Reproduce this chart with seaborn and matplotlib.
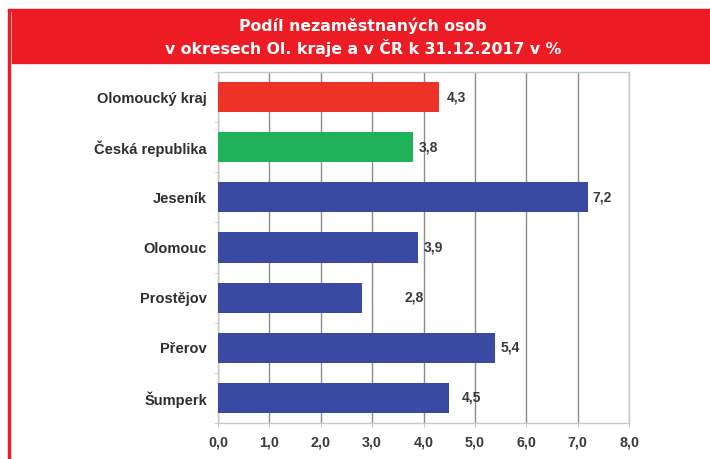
import matplotlib
matplotlib.use("Agg")
import matplotlib.pyplot as plt
import matplotlib.patches as mpatches
import seaborn as sns
import pandas as pd
from matplotlib.ticker import FixedLocator

# ---- data ----
categories = ["Olomoucký kraj", "Česká republika", "Jeseník", "Olomouc",
              "Prostějov", "Přerov", "Šumperk"]
values = [4.3, 3.8, 7.2, 3.9, 2.8, 5.4, 4.5]
value_labels = ["4,3", "3,8", "7,2", "3,9", "2,8", "5,4", "4,5"]
bar_colors = ["#ee3227", "#1fb25a", "#3a4aa2", "#3a4aa2", "#3a4aa2", "#3a4aa2", "#3a4aa2"]
label_offsets_pt = [6, 4, 3, 4, 31, 4, 9]
x_ticks = [0, 1, 2, 3, 4, 5, 6, 7, 8]
x_tick_labels = ["0,0", "1,0", "2,0", "3,0", "4,0", "5,0", "6,0", "7,0", "8,0"]
title_lines = ["Podíl nezaměstnaných osob", "v okresech Ol. kraje a v ČR k 31.12.2017 v %"]

df = pd.DataFrame({"cat": categories, "val": values})

W, H = 710, 459
fig = plt.figure(figsize=(W / 100, H / 100), dpi=100)
fig.patch.set_facecolor("white")


def fx(px):
    return px / W


def fy(py):
    return 1 - py / H


red = "#ed1c24"
fig.patches.append(mpatches.Rectangle((fx(8), fy(H)), fx(2), fy(9) - fy(H),
                                      transform=fig.transFigure, color=red, zorder=0))
fig.patches.append(mpatches.Rectangle((fx(8), fy(10.5)), fx(W - 8), fy(9) - fy(10.5),
                                      transform=fig.transFigure, color=red, zorder=0))
fig.patches.append(mpatches.Rectangle((fx(11.5), fy(63)), fx(W - 11.5), fy(12) - fy(63),
                                      transform=fig.transFigure, color=red, zorder=0))

title_font = dict(family=["DejaVu Sans"], weight="bold",
                  color="white", fontsize=11.3, ha="center", va="center")
fig.text(fx(363), fy(26), title_lines[0], **title_font)
fig.text(fx(363), fy(48), title_lines[1], **title_font)

ax = fig.add_axes([fx(218), fy(423), fx(629) - fx(218), fy(72) - fy(423)])
ax.set_facecolor("white")

sns.barplot(data=df, x="val", y="cat", hue="cat", palette=bar_colors,
            legend=False, orient="h", width=0.6, ax=ax, zorder=3,
            saturation=1)

ax.set_xlim(0, 8)
ax.set_ylim(len(categories) - 0.5, -0.5)
ax.set_xlabel("")
ax.set_ylabel("")

ax.xaxis.set_major_locator(FixedLocator(x_ticks))
ax.set_xticklabels(x_tick_labels)
ax.grid(axis="x", color="#8c8c8c", linewidth=1.0, zorder=1)
ax.grid(axis="y", visible=False)
ax.set_axisbelow(True)

for side in ["top", "right", "left", "bottom"]:
    ax.spines[side].set_visible(True)
    ax.spines[side].set_color("#c9c9c9")
    ax.spines[side].set_linewidth(1.0)

ax.tick_params(axis="x", length=3, color="#c9c9c9", pad=6,
               labelsize=10.3, labelcolor="#3a3a3a")
ax.tick_params(axis="y", length=0, pad=8, labelsize=10.5, labelcolor="#2e2e2e")
ax.yaxis.set_minor_locator(FixedLocator([i - 0.5 for i in range(len(categories) + 1)]))
ax.tick_params(axis="y", which="minor", length=3, color="#c9c9c9")
for lab in ax.get_xticklabels() + ax.get_yticklabels():
    lab.set_fontweight("bold")
    lab.set_family(["Liberation Sans", "DejaVu Sans"])

for i, (v, lab, off) in enumerate(zip(values, value_labels, label_offsets_pt)):
    ax.annotate(lab, xy=(v, i), xytext=(off, 0), textcoords="offset points",
                ha="left", va="center", fontsize=10, fontweight="bold",
                color="#3a3a3a", family=["Liberation Sans", "DejaVu Sans"], zorder=4)

fig.savefig("out.png", dpi=100, facecolor="white")
